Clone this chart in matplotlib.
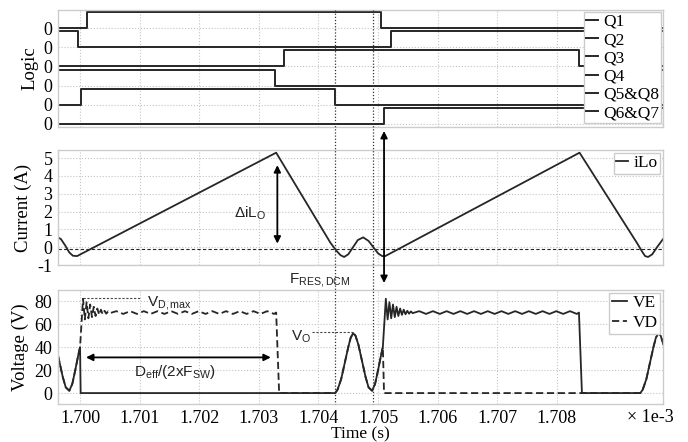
import matplotlib
matplotlib.use("Agg")
import matplotlib.pyplot as plt
from matplotlib.lines import Line2D
from matplotlib.transforms import blended_transform_factory

plt.rcParams['font.family'] = ['Liberation Serif', 'DejaVu Serif']
plt.rcParams['mathtext.fontset'] = 'custom'
plt.rcParams['mathtext.rm'] = 'Liberation Sans'
plt.rcParams['mathtext.it'] = 'Liberation Sans:italic'
plt.rcParams['mathtext.default'] = 'rm'
plt.rcParams['axes.unicode_minus'] = False

# tid i enheter av 1e-3 s
t_start, t_end = 1.69963, 1.70978
x_ticks = [1.700, 1.701, 1.702, 1.703, 1.704, 1.705, 1.706, 1.707, 1.708]

# logikksignaler (overgangstider, nivaa)
logic_names = ['Q1', 'Q2', 'Q3', 'Q4', 'Q5&Q8', 'Q6&Q7']
logic_t = [
    [t_start, 1.70012, 1.70505, t_end],
    [t_start, 1.69997, 1.70522, t_end],
    [t_start, 1.70342, 1.70837, t_end],
    [t_start, 1.70327, 1.70850, t_end],
    [t_start, 1.70002, 1.70428, t_end],
    [t_start, 1.70510, t_end],
]
logic_v = [
    [0, 1, 0, 0],
    [1, 0, 1, 1],
    [0, 1, 0, 0],
    [1, 0, 1, 1],
    [0, 1, 0, 0],
    [0, 1, 1],
]

# spolestrom iLo (A)
ilo_t = [1.69963, 1.69968, 1.69975, 1.69982, 1.69988, 1.69995,
         1.70329, 1.70420, 1.70430, 1.70437, 1.70443, 1.70450, 1.70458,
         1.70466, 1.70475, 1.70484, 1.70492, 1.70500, 1.70507, 1.70512,
         1.70838, 1.70935, 1.70943, 1.70948, 1.70953, 1.70960, 1.70968, 1.70978]
ilo_v = [0.55, 0.45, 0.1, -0.3, -0.48, -0.5,
         5.3, 0.25, -0.2, -0.45, -0.55, -0.4, 0.0,
         0.4, 0.55, 0.35, 0.0, -0.35, -0.5, -0.5,
         5.3, 0.2, -0.25, -0.5, -0.55, -0.4, 0.0, 0.45]

# resonansbue (relativ tid, spenning V)
res_dt = [0, 0.00004, 0.0001, 0.00016, 0.00022, 0.00026, 0.0003, 0.00034,
          0.00039, 0.00045, 0.00051, 0.00056, 0.00062, 0.00067, 0.00072,
          0.00077, 0.0008]
res_v = [0, 3, 12, 26, 40, 48, 52, 50, 42, 28, 14, 5, 2, 8, 20, 33, 40]

# ringing paa pulsen (relativ tid, spenning V)
ring_dt = [0.00005, 0.00008, 0.00011, 0.00014, 0.00017, 0.00020, 0.00023,
           0.00026, 0.00029, 0.00032, 0.00035, 0.00038, 0.00041, 0.00044,
           0.00047, 0.00050,
           0.00061, 0.000725, 0.00084, 0.000955, 0.00107, 0.001185, 0.0013,
           0.001415, 0.00153, 0.001645, 0.00176, 0.001875, 0.00199, 0.002105,
           0.00222, 0.002335, 0.00245, 0.002565, 0.00268, 0.002795, 0.00291,
           0.003025, 0.00314, 0.003255, 0.00329, 0.00334]
ring_v = [82, 64, 79, 65, 77, 66, 75, 67, 73.5, 68, 72.5, 68.5, 71.5, 69,
          71, 69.5,
          71.2, 68.8, 71.2, 68.8, 71.2, 68.8, 71.2, 68.8, 71.2, 68.8, 71.2,
          68.8, 71.2, 68.8, 71.2, 68.8, 71.2, 68.8, 71.2, 68.8, 71.2, 68.8,
          71.2, 68.8, 70, 0]

bump_starts = [1.69920, 1.70428, 1.70940]
ve_pulse_start = 1.70508
vd_pulse_start = 1.70000


def bump(t0):
    return [t0 + d for d in res_dt], list(res_v)


def ring(t0):
    return [t0 + d for d in ring_dt], list(ring_v)


# VE
ve_t, ve_v = [], []
for part in [bump(bump_starts[0]), ([1.70001], [0]), bump(bump_starts[1]),
             ring(ve_pulse_start), bump(bump_starts[2])]:
    ve_t += part[0]
    ve_v += part[1]

# VD
vd_t, vd_v = [], []
for part in [bump(bump_starts[0]), ring(vd_pulse_start), bump(bump_starts[1]),
             ([1.70510], [0]), bump(bump_starts[2])]:
    vd_t += part[0]
    vd_v += part[1]

line_col = '#262626'
grid_col = '#c4c4c4'
spine_col = '#cccccc'
W, H = 688, 442

fig = plt.figure(figsize=(W / 100, H / 100), dpi=100)
ax1 = fig.add_axes([58 / W, 1 - 127 / H, 605 / W, 117 / H])
ax2 = fig.add_axes([58 / W, 1 - 265 / H, 605 / W, 115 / H])
ax3 = fig.add_axes([58 / W, 1 - 404 / H, 605 / W, 114 / H])

for ax in (ax1, ax2, ax3):
    ax.set_xlim(t_start, t_end)
    ax.set_xticks(x_ticks)
    ax.grid(True, ls=':', color=grid_col, lw=0.8)
    ax.tick_params(length=0, labelsize=13, pad=4)
    for s in ax.spines.values():
        s.set_color(spine_col)
        s.set_linewidth(1.0)
    ax.set_axisbelow(True)

# Logic
for i, name in enumerate(logic_names):
    base = -1.2 * i
    ax1.step(logic_t[i], [base + v for v in logic_v[i]], where='post',
             color=line_col, lw=1.4, label=name)
ax1.set_ylim(-6.19, 1.13)
ax1.set_yticks([-1.2 * i for i in range(6)])
ax1.set_yticklabels(['0'] * 6)
ax1.set_xticklabels([])
ax1.set_ylabel('Logic', fontsize=13.5)
ax1.legend(loc='upper right', fontsize=12.5, handlelength=0.7,
           handletextpad=0.3, labelspacing=0.12, borderpad=0.12,
           borderaxespad=0.1, fancybox=False, framealpha=1,
           edgecolor=spine_col)

# Current
ax2.plot(ilo_t, ilo_v, color=line_col, lw=1.3, label='iLo')
ax2.axhline(-0.1, color=line_col, ls=(0, (3, 2)), lw=0.8)
ax2.set_ylim(-1, 5.45)
ax2.set_yticks([-1, 0, 1, 2, 3, 4, 5])
ax2.set_xticklabels([])
ax2.set_ylabel('Current (A)', fontsize=13.5)
ax2.legend(loc='upper right', fontsize=12.5, handlelength=0.7,
           handletextpad=0.3, borderpad=0.15, borderaxespad=0.15,
           fancybox=False, framealpha=1, edgecolor=spine_col)
ax2.annotate('', xy=(1.70331, 0.2), xytext=(1.70331, 4.6),
             arrowprops=dict(arrowstyle='<|-|>', color='k', lw=1.3,
                             mutation_scale=10, shrinkA=0, shrinkB=0))
ax2.text(1.70285, 1.9, r'$\Delta$iL$_\mathrm{O}$', fontsize=11,
         family='Liberation Sans', ha='center', va='center', color='#222222')

# Voltage
ax3.plot(ve_t, ve_v, color=line_col, lw=1.3, label='VE')
ax3.plot(vd_t, vd_v, color=line_col, lw=1.3, ls=(0, (4, 2)), label='VD')
ax3.set_ylim(-9.5, 89.6)
ax3.set_yticks([0, 20, 40, 60, 80])
ax3.set_xticklabels(['%.3f' % x for x in x_ticks])
ax3.set_ylabel('Voltage (V)', fontsize=13.5)
ax3.set_xlabel('Time (s)', fontsize=12.5, labelpad=0)
ax3.legend(loc='upper right', fontsize=12.5, handlelength=0.9,
           handletextpad=0.3, labelspacing=0.2, borderpad=0.15,
           borderaxespad=0.15, fancybox=False, framealpha=1,
           edgecolor=spine_col)

ax3.plot([1.70005, 1.70103], [83, 83], color='#444444', ls=(0, (2, 1.5)), lw=0.8)
ax3.text(1.70112, 78.5, r'V$_\mathrm{D,max}$', fontsize=11,
         family='Liberation Sans', ha='left', va='center', color='#222222')
ax3.plot([1.70389, 1.70458], [52.7, 52.7], color='#444444', ls=(0, (2, 1.5)), lw=0.8)
ax3.text(1.70387, 49, r'V$_\mathrm{O}$', fontsize=11,
         family='Liberation Sans', ha='right', va='center', color='#222222')
ax3.annotate('', xy=(1.70010, 31), xytext=(1.70320, 31),
             arrowprops=dict(arrowstyle='<|-|>', color='k', lw=1.3,
                             mutation_scale=10, shrinkA=0, shrinkB=0))
ax3.text(1.70159, 18.5, r'D$_\mathrm{eff}$/(2xF$_\mathrm{SW}$)', fontsize=11,
         family='Liberation Sans', ha='center', va='center', color='#222222')
ax3.text(1.70403, 98.5, r'F$_\mathrm{RES,DCM}$', fontsize=11,
         family='Liberation Sans', ha='center', va='center', color='#222222',
         clip_on=False)

# vertikale markeringslinjer gjennom alle paneler
blend = blended_transform_factory(ax3.transData, fig.transFigure)
for tv in [1.70428, 1.70492]:
    fig.add_artist(Line2D([tv, tv], [1 - 10 / H, 1 - 404 / H], transform=blend,
                          color='#333333', ls=(0, (1, 1.5)), lw=0.9))

# stor dobbelpil
ax3.annotate('', xy=(1.70510, 1 - 283 / H), xytext=(1.70510, 1 - 131 / H),
             xycoords=('data', 'figure fraction'),
             textcoords=('data', 'figure fraction'),
             arrowprops=dict(arrowstyle='<|-|>', color='k', lw=1.3,
                             mutation_scale=10, shrinkA=0, shrinkB=0),
             annotation_clip=False)

fig.text(650 / W, 1 - 417 / H, '\u00d7 1e-3', fontsize=13, ha='center', va='center')

fig.savefig('out.png', dpi=100)
